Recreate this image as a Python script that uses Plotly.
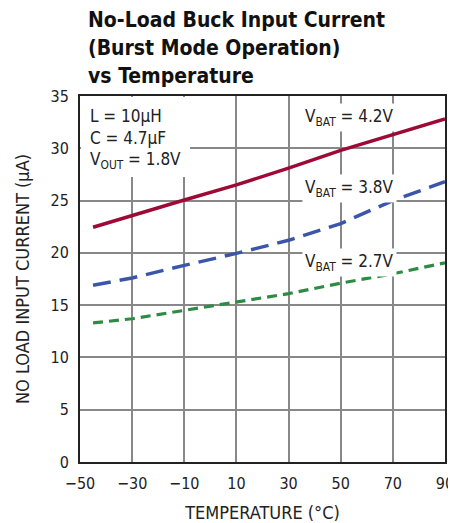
import plotly.graph_objects as go

temps = [-45, -30, -10, 10, 30, 50, 70, 90]
i_42 = [22.45, 23.6, 25.05, 26.5, 28.1, 29.8, 31.3, 32.8]
i_38 = [16.9, 17.6, 18.8, 19.95, 21.2, 22.8, 25.0, 26.8]
i_27 = [13.3, 13.7, 14.5, 15.3, 16.1, 17.1, 18.0, 19.05]

x_ticks = [-50, -30, -10, 10, 30, 50, 70, 90]
x_labels = ["\u221250", "\u221230", "\u221210", "10", "30", "50", "70", "90"]
y_ticks = [0, 5, 10, 15, 20, 25, 30, 35]
title_lines = ["No-Load Buck Input Current", "(Burst Mode Operation)", "vs Temperature"]
cond_lines = ["L = 10\u03bcH", "C = 4.7\u03bcF", "V<sub>OUT</sub> = 1.8V"]

FONT = "DejaVu Sans Condensed"

# page has an 8px body margin; plot area spans page px x 80..445, y 96..462
def px_x(p):
    return (p - 80) / 365

def px_y(p):
    return (462 - p) / 366

fig = go.Figure()
fig.add_trace(go.Scatter(x=temps, y=i_42, mode="lines",
                         line=dict(color="#9c0a35", width=3.5), showlegend=False))
fig.add_trace(go.Scatter(x=temps, y=i_38, mode="lines",
                         line=dict(color="#3a55aa", width=3.5, dash="18px,9px"), showlegend=False))
fig.add_trace(go.Scatter(x=temps, y=i_27, mode="lines",
                         line=dict(color="#2e8b44", width=3.2, dash="10px,6px"), showlegend=False))

ann_font = dict(family=FONT, size=17, color="#222")
labels = [
    dict(x=53.5, y=32.9, text="V<sub>BAT</sub> = 4.2V"),
    dict(x=53.5, y=26.2, text="V<sub>BAT</sub> = 3.8V"),
    dict(x=53.5, y=19.1, text="V<sub>BAT</sub> = 2.7V"),
]
for a in labels:
    fig.add_annotation(x=a["x"], y=a["y"], text=a["text"], showarrow=False,
                       font=ann_font, bgcolor="white", xanchor="center", yanchor="middle",
                       borderpad=2)

# white backing box for the conditions text
fig.add_shape(type="rect", xref="paper", yref="paper", x0=0.003, x1=px_x(190),
              y0=px_y(177), y1=0.997, fillcolor="white", line_width=0, layer="above")
for i, t in enumerate(cond_lines):
    py = 116 + 22 * i
    fig.add_annotation(xref="paper", yref="paper", x=px_x(89), y=px_y(py),
                       xanchor="left", yanchor="middle", text=t, showarrow=False,
                       align="left", font=ann_font, borderpad=0)

# title lines
for i, t in enumerate(title_lines):
    py = 20 + 28 * i
    fig.add_annotation(xref="paper", yref="paper", x=px_x(86), y=px_y(py),
                       xanchor="left", yanchor="middle", text="<b>" + t + "</b>",
                       showarrow=False, font=dict(family=FONT, size=21, color="#111"))

fig.update_layout(
    width=448, height=515,
    margin=dict(l=72, r=11, t=88, b=61),
    paper_bgcolor="white", plot_bgcolor="white",
    font=dict(family=FONT, color="#222"),
)
fig.update_xaxes(range=[-50, 90], tickvals=x_ticks, ticktext=x_labels, automargin=False,
                 showgrid=True, gridcolor="#888", gridwidth=1.5,
                 showline=True, linecolor="#222", linewidth=2, mirror=True,
                 zeroline=False, ticks="", tickfont=dict(family=FONT, size=16),
                 ticklabelstandoff=6,
                 title=dict(text="TEMPERATURE (\u00b0C)", font=dict(family=FONT, size=18), standoff=16))
fig.update_yaxes(range=[0, 35], tickvals=y_ticks, automargin=False,
                 showgrid=True, gridcolor="#888", gridwidth=1.5,
                 showline=True, linecolor="#222", linewidth=2, mirror=True,
                 zeroline=False, ticks="", tickfont=dict(family=FONT, size=16),
                 ticklabelstandoff=6,
                 title=dict(text="NO LOAD INPUT CURRENT (\u03bcA)", font=dict(family=FONT, size=18), standoff=16))

fig.write_html("out.html")
